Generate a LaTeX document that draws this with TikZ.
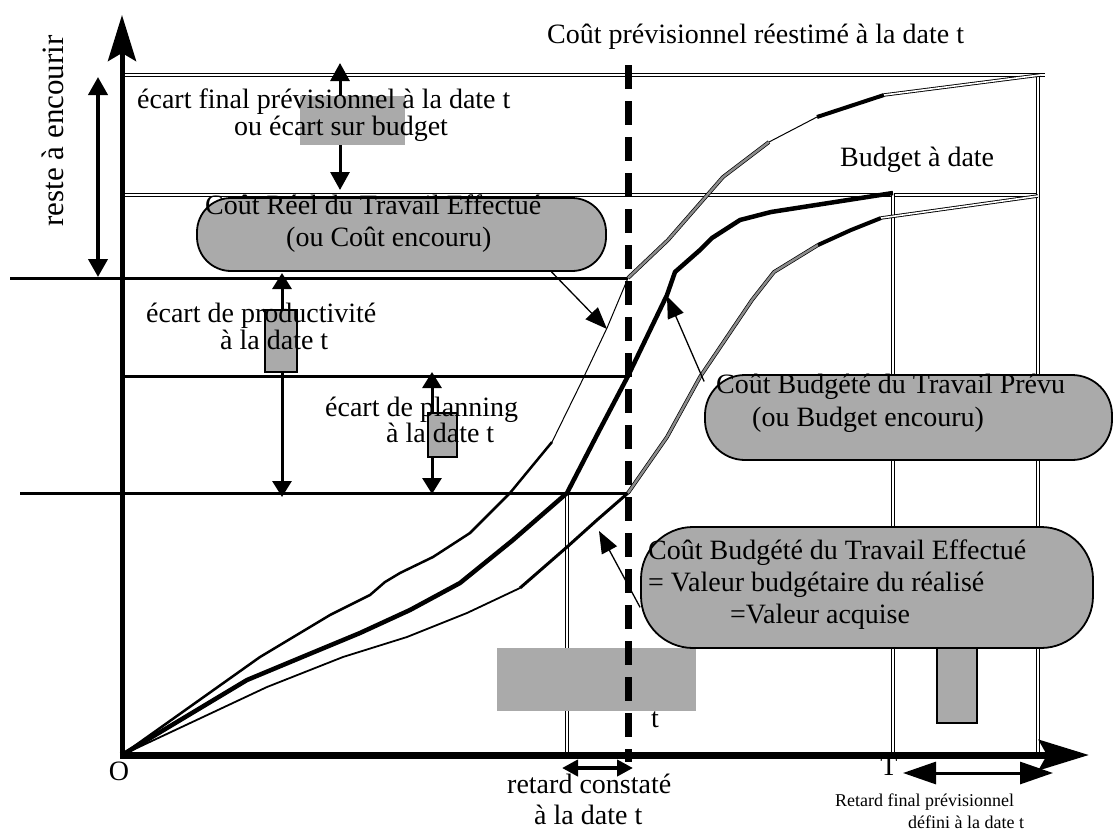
\documentclass[tikz,border=0pt]{standalone}
\usepackage{fontspec}
\setmainfont{Liberation Serif}
\usetikzlibrary{arrows.meta}
\definecolor{patchgray}{RGB}{170,170,170}
\definecolor{projgray}{RGB}{140,140,140}
\newcommand\tightlines{\lineskiplimit=-40pt\relax}

\begin{document}
\begin{tikzpicture}[x=1pt, y=-1pt,
	txt/.style={font=\fontsize{28}{32}\selectfont\tightlines, inner sep=0pt, align=left},
	small/.style={font=\fontsize{18}{22}\selectfont\tightlines, inner sep=0pt, align=left},
	callout/.style={draw, line width=1.8pt, fill=patchgray, rounded corners=34pt, inner sep=0pt},
	tag/.style={draw, line width=2.4pt, fill=patchgray, inner sep=0pt},
	dbl/.style={double, double distance=1.6pt, line width=0.9pt},
	level/.style={line width=3pt},
	proj/.style={double=projgray, double distance=2.4pt, line width=0.7pt},
	axis/.style={-{Stealth[length=46pt, width=28pt, inset=8pt]}},
	gap/.style={line width=3pt, {Triangle[length=#1, width=19pt]}-{Triangle[length=#1, width=19pt]}},
	gap/.default=18pt,
	pointer/.style={line width=1.3pt, -{Triangle[length=22pt, width=17pt]}}]

	\useasboundingbox (0,0) rectangle (1114,830);

	\coordinate (O) at (122,755);
	\coordinate (cr) at (628,278);
	\coordinate (bp) at (628,376);
	\coordinate (be) at (628,493);
	\coordinate (bac) at (893,193);
	\coordinate (eac) at (1038,75);

	\draw[level] (10,278) -- (cr);
	\draw[level] (122,376) -- (bp);
	\draw[level] (20,493) -- (be);

	\draw[dbl] (122,75) -- (1045,75);
	\draw[dbl] (122,195) -- (1040,195);
	\draw[dbl] (567,493) -- (567,755);
	\draw[dbl] (bac) -- (893,755);
	\draw[dbl] (eac) -- (1038,755);

	% cout reel
	\draw[line width=2.5pt, line join=round] (O) -- (260,657) -- (330,615) -- (370,595) -- (385,582) -- (400,573) -- (433,557) -- (470,533) -- (510,493) -- (552,442);
	\draw[line width=1pt] (552,442) -- (580,385) -- (607,328) -- (cr);
	\draw[proj] (cr) -- (668,240) -- (723,177) -- (769,142);
	\draw[line width=1pt] (769,142) -- (817,117);
	\draw[line width=4pt] (817,117) -- (884,95);
	\draw[dbl] (884,95) -- (1040,75);

	% budget
	\draw[line width=4.5pt, line join=round] (O) -- (247,680) -- (307,655) -- (360,633) -- (410,610) -- (460,583) -- (513,540) -- (567,493) -- (598,433) -- (bp) -- (667,295) -- (675,272) -- (700,250) -- (712,238) -- (740,220) -- (771,212) -- (bac);

	% valeur acquise
	\draw[line width=1.8pt, line join=round] (O) -- (267,687) -- (343,657) -- (407,637) -- (467,613) -- (520,588);
	\draw[line width=3pt, line join=round] (520,588) -- (567,547) -- (597,520) -- (be);
	\draw[proj] (be) -- (667,437) -- (700,377) -- (752,300) -- (774,272) -- (818,245);
	\draw[line width=4pt] (818,245) -- (851,230) -- (881,218);
	\draw[dbl] (881,218) -- (1038,196);

	\draw[gap, line width=4pt] (98,77) -- (98,277);
	\draw[gap] (340,63) -- (340,190);
	\draw[gap=16pt] (282,273) -- (282,497);
	\draw[gap=16pt] (432,372) -- (432,494);

	\fill[patchgray] (300,96) rectangle (405,145);
	\fill[patchgray] (497,648) rectangle (696,711);

	\node[callout, minimum width=409pt, minimum height=73pt] (crte) at (401.5,234.5) {};
	\node[callout, minimum width=407pt, minimum height=85pt, rounded corners=40pt] (cbtp) at (908.5,417.5) {};
	\node[callout, minimum width=452pt, minimum height=121pt, rounded corners=52pt] (cbte) at (867,587.5) {};

	\node[tag, minimum width=32pt, minimum height=62pt] (tprod) at (281,341) {};
	\node[tag, minimum width=29pt, minimum height=44pt] (tplan) at (442.5,435) {};
	\node[tag, minimum width=40pt, minimum height=75pt] (tend) at (957,685.5) {};

	\node[txt, anchor=west] (prev) at (547,37) {Coût prévisionnel réestimé à la date t};
	\node[txt, anchor=west] (budget) at (840,160) {Budget à date};
	\node[txt, rotate=90, font=\fontsize{31}{34}\selectfont] (reste) at (53,131) {reste à encourir};
	\node[txt, anchor=west, font=\fontsize{28}{27}\selectfont\tightlines] (ecfin) at (137,115) {écart final prévisionnel à la date t\\\hspace*{97pt}ou écart sur budget};
	\node[txt, anchor=west] (crtetxt) at (205,224) {Coût Réel du Travail Effectué\\\hspace*{81pt}(ou Coût encouru)};
	\node[txt, anchor=west, font=\fontsize{28}{27}\selectfont\tightlines] (ecprod) at (146,326.5) {écart de productivité\\\hspace*{74pt}à la date t};
	\node[txt, anchor=west, font=\fontsize{28}{26}\selectfont\tightlines] (ecplan) at (325,420) {écart de planning\\\hspace*{61pt}à la date t};
	\node[txt, anchor=west, font=\fontsize{28}{33}\selectfont\tightlines] (cbtptxt) at (716,403.5) {Coût Budgété du Travail Prévu\\\hspace*{36pt}(ou Budget encouru)};
	\node[txt, anchor=west] (cbtetxt) at (648,585) {Coût Budgété du Travail Effectué\\= Valeur budgétaire du réalisé\\\hspace*{82pt}=Valeur acquise};
	\node[txt, anchor=west, font=\fontsize{28}{31}\selectfont\tightlines] (retc) at (507,799) {retard constaté\\\hspace*{27pt}à la date t};
	\node[small, anchor=west] (retf) at (835,811) {Retard final prévisionnel\\\hspace*{73pt}défini à la date t};
	\node[txt] (lblO) at (119,771) {O};
	\node[txt] (lblT) at (889,766) {T};
	\node[txt] (lblt) at (655,720) {t};

	\draw[line width=7pt, dash pattern=on 24pt off 12pt] (628,65) -- (628,762);

	\coordinate (pa) at (607,329);
	\coordinate (pb) at (667,296);
	\coordinate (pc) at (599,531);
	\draw[pointer] (crte.-14) -- (pa);
	\draw[pointer] (cbtp.170) -- (pb);
	\draw[pointer] (cbte.185) -- (pc);

	\draw[line width=4pt, {Triangle[length=16pt, width=16pt]}-{Triangle[length=16pt, width=16pt]}] (562,768) -- (633,768);
	\draw[line width=3pt, {Triangle[length=33pt, width=22pt]}-{Triangle[length=33pt, width=22pt]}] (903,773) -- (1053,773);

	\draw[axis, line width=5pt] (122,757.5) -- (122,15);
	\draw[axis, line width=7pt, -{Stealth[length=50pt, width=30pt, inset=8pt]}] (119.5,755) -- (1089,755);
\end{tikzpicture}
\end{document}
